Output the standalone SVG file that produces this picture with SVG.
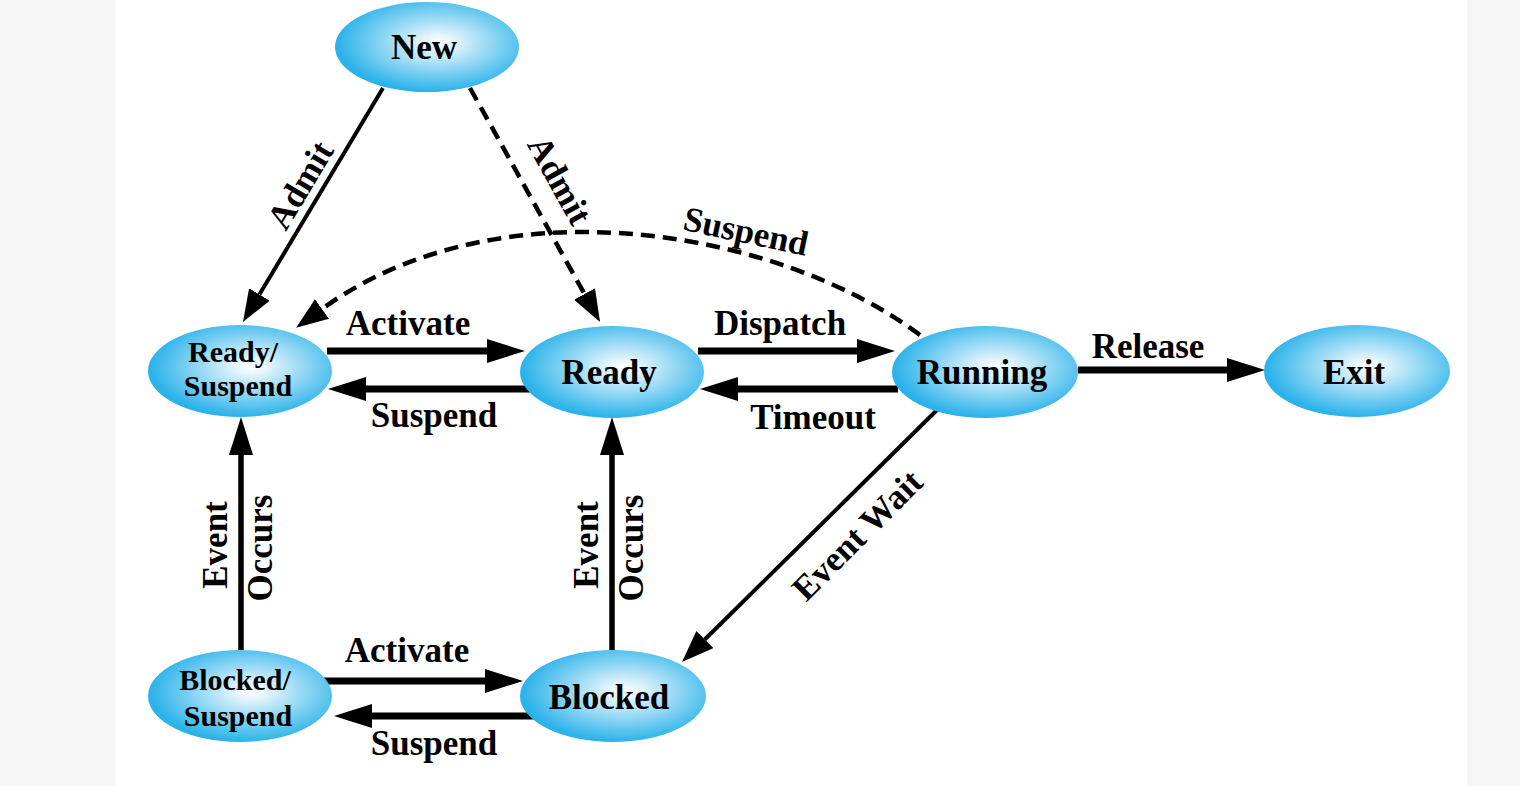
<svg xmlns="http://www.w3.org/2000/svg" width="1520" height="786" viewBox="0 0 1520 786">
<defs>
<radialGradient id="g" cx="56%" cy="45%" r="55%">
<stop offset="0" stop-color="#ffffff"/>
<stop offset="0.15" stop-color="#e6f5fc"/>
<stop offset="1" stop-color="#2ab2ea"/>
</radialGradient>
<marker id="ah" markerUnits="userSpaceOnUse" markerWidth="40" markerHeight="26" refX="0" refY="12" orient="auto">
<path d="M0,0 L38,12 L0,24 z" fill="#000"/>
</marker>
<marker id="as" markerUnits="userSpaceOnUse" markerWidth="34" markerHeight="26" refX="0" refY="12" orient="auto">
<path d="M0,0 L32,12 L0,24 z" fill="#000"/>
</marker>
<style>
.n{fill:url(#g);}
.t{font-family:"Liberation Serif","Times New Roman",serif;font-weight:bold;fill:#000;text-anchor:middle;}
.big{font-size:35px;}
.sm{font-size:30px;}
.e{font-family:"Liberation Serif","Times New Roman",serif;font-weight:bold;fill:#000;text-anchor:middle;font-size:35px;}
.thick{stroke:#000;stroke-width:7;fill:none;marker-end:url(#ah);}
.mid{stroke:#000;stroke-width:5.5;fill:none;marker-end:url(#ah);}
.thin{stroke:#000;stroke-width:4;fill:none;marker-end:url(#as);}
.dash{stroke:#000;stroke-width:4.5;fill:none;stroke-dasharray:14 8;marker-end:url(#as);}
</style>
</defs>
<rect x="0" y="0" width="1520" height="786" fill="#f5f5f5"/>
<rect x="115" y="0" width="1352" height="786" fill="#ffffff"/>

<g id="connectors">
<path class="thin" d="M383 88 L259.4 294.5"/>
<path class="dash" d="M470 88 L584.5 294"/>
<path class="dash" d="M920 335 C780 230 500 180 322 309"/>
<path class="thick" d="M327 351 H487"/>
<path class="thick" d="M530 389 H366"/>
<path class="thick" d="M698 351 H857"/>
<path class="thick" d="M898 389 H738"/>
<path class="thick" d="M1078 370 H1227"/>
<path class="mid" d="M241 650 V455"/>
<path class="mid" d="M612 650 V455"/>
<path class="thick" d="M320 681 H485"/>
<path class="thick" d="M538 716 H372"/>
<path class="thin" d="M937 410 L704.8 639.5"/>
<text class="e" transform="translate(300,185) rotate(-59)" y="12">Admit</text>
<text class="e" transform="translate(560,180) rotate(61)" y="12">Admit</text>
<text class="e" transform="translate(746,231) rotate(12)" y="12">Suspend</text>
<text class="e" x="408" y="335">Activate</text>
<text class="e" x="434" y="427">Suspend</text>
<text class="e" x="780" y="335">Dispatch</text>
<text class="e" x="813" y="429">Timeout</text>
<text class="e" x="1148" y="358">Release</text>
<text class="e" transform="translate(227,545) rotate(-90)">Event</text>
<text class="e" transform="translate(272,548) rotate(-90)">Occurs</text>
<text class="e" transform="translate(598,545) rotate(-90)">Event</text>
<text class="e" transform="translate(643,548) rotate(-90)">Occurs</text>
<text class="e" transform="translate(857,535) rotate(-45)" y="12">Event Wait</text>
<text class="e" x="407" y="662">Activate</text>
<text class="e" x="434" y="755">Suspend</text>
</g>

<g id="node-new">
<ellipse class="n" cx="427" cy="47" rx="92" ry="45"/>
<text class="t big" x="424" y="59">New</text>
</g>
<g id="node-ready-suspend">
<ellipse class="n" cx="240" cy="371" rx="92" ry="46"/>
<text class="t sm" x="233" y="362">Ready/</text>
<text class="t sm" x="238" y="396">Suspend</text>
</g>
<g id="node-ready">
<ellipse class="n" cx="612" cy="372" rx="92" ry="46"/>
<text class="t big" x="609" y="384">Ready</text>
</g>
<g id="node-running">
<ellipse class="n" cx="985" cy="372" rx="93" ry="46"/>
<text class="t big" x="982" y="384">Running</text>
</g>
<g id="node-exit">
<ellipse class="n" cx="1357" cy="371" rx="93" ry="46"/>
<text class="t big" x="1354" y="384">Exit</text>
</g>
<g id="node-blocked-suspend">
<ellipse class="n" cx="240" cy="696" rx="92" ry="46"/>
<text class="t sm" x="235" y="690">Blocked/</text>
<text class="t sm" x="238" y="726">Suspend</text>
</g>
<g id="node-blocked">
<ellipse class="n" cx="613" cy="696" rx="93" ry="46"/>
<text class="t big" x="609" y="709">Blocked</text>
</g>
</svg>
